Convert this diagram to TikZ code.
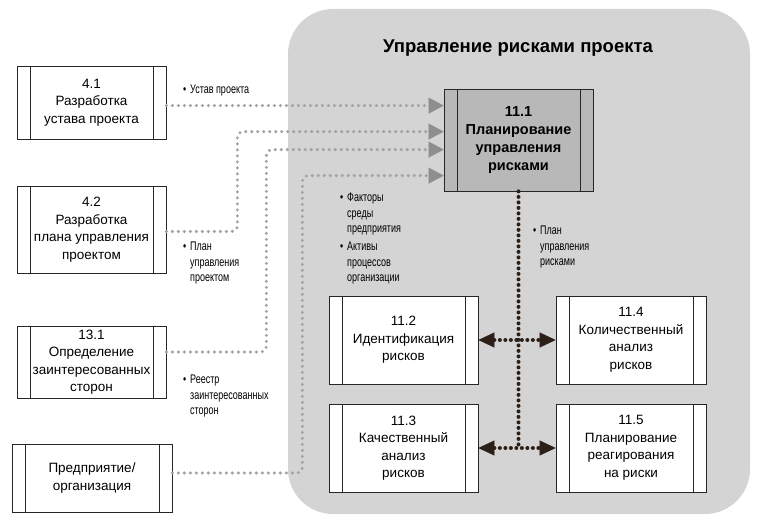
\documentclass[tikz,border=0pt]{standalone}
\usepackage{fontspec}
\setmainfont{Liberation Sans}
\newfontfamily\narrowfont[FakeStretch=0.72]{Liberation Sans}
\usepackage{xcolor}
\usepackage{tikz}
\usetikzlibrary{arrows.meta}
\definecolor{panelgray}{HTML}{D4D4D4}
\definecolor{boxgray}{HTML}{B8B8B8}
\definecolor{dotgray}{HTML}{A3A3A3}
\definecolor{tipgray}{HTML}{8E8E8E}
\definecolor{darkbrown}{HTML}{2B1F17}
\tikzset{
    procbox/.style={
        draw=black!85, fill=white, line width=0.8pt, inner sep=0pt,
        align=center, font=\fontsize{13.5}{17.5}\selectfont,
        minimum width=149pt,
        path picture={
            \draw[line width=0.8pt]
                ([xshift=13pt]path picture bounding box.north west) -- ([xshift=13pt]path picture bounding box.south west)
                ([xshift=-13pt]path picture bounding box.north east) -- ([xshift=-13pt]path picture bounding box.south east);
        }
    },
    lbl/.style={
        anchor=north west, align=left, inner sep=0pt,
        font=\narrowfont\fontsize{12.5}{15.5}\selectfont
    },
    gline/.style={
        draw=dotgray, line width=3.4pt, line cap=round,
        dash pattern=on 0pt off 6pt, rounded corners=6pt,
        -{Triangle[length=15pt,width=16pt,line width=0.1pt,color=tipgray]}
    },
    dline/.style={
        draw=darkbrown, line width=4pt, line cap=round,
        dash pattern=on 0pt off 5.5pt
    },
    darr/.style={
        dline,
        {Triangle[length=16pt,width=15pt,line width=0.1pt]}-{Triangle[length=16pt,width=15pt,line width=0.1pt]}
    }
}

\begin{document}
\begin{tikzpicture}[x=1pt, y=-1pt]
\useasboundingbox (0,0) rectangle (768,521);

\fill[panelgray, rounded corners=45pt] (288,9) rectangle (750,514);
\node[font=\bfseries\fontsize{18.5}{22}\selectfont] (title) at (518,48) {Управление рисками проекта};

\node[procbox, minimum height=73pt] (p41) at (91.5,102.5) {4.1\\Разработка\\устава проекта};
\node[procbox, minimum height=87pt] (p42) at (91.5,229.5) {4.2\\Разработка\\плана управления\\проектом};
\node[procbox, minimum height=72pt] (p131) at (91.5,362) {13.1\\Определение\\заинтересованных\\сторон};
\node[procbox, minimum height=68pt, minimum width=160pt] (pent) at (92,478) {Предприятие/\\организация};

\node[procbox, fill=boxgray, minimum height=102pt, font=\bfseries\fontsize{14.5}{18}\selectfont] (p11) at (518.5,140) {11.1\\Планирование\\управления\\рисками};
\node[procbox, minimum height=88pt] (p12) at (403.5,340) {11.2\\Идентификация\\рисков};
\node[procbox, minimum height=88pt, minimum width=150pt] (p14) at (631,340) {11.4\\Количественный\\анализ\\рисков};
\node[procbox, minimum height=88pt] (p13) at (403.5,448) {11.3\\Качественный\\анализ\\рисков};
\node[procbox, minimum height=88pt, minimum width=150pt] (p15) at (631,448) {11.5\\Планирование\\реагирования\\на риски};

\coordinate (in1) at ([yshift=-17pt]p11.north west);
\coordinate (in2) at ([yshift=-43pt]p11.north west);
\coordinate (in3) at ([yshift=-61pt]p11.north west);
\coordinate (in4) at ([yshift=-87pt]p11.north west);

\draw[gline] (p41.east |- in1) -- (in1);
\draw[gline] ([yshift=-2pt]p42.east) -- ++(71,0) |- (in2);
\draw[gline] ([yshift=10pt]p131.east) -- ++(100,0) |- (in3);
\draw[gline] ([yshift=5pt]pent.east) -- ++(130,0) |- (in4);

\draw[dline] (p11) -- (p11 |- p13);
\draw[darr] (p12) -- (p14);
\draw[darr] (p13) -- (p15);

\node[lbl] (l41) at (190,85) {\llap{•\hspace{4pt}}Устав проекта};
\node[lbl] (l42) at (190,242) {\llap{•\hspace{4pt}}План\\управления\\проектом};
\node[lbl] (l131) at (190,375) {\llap{•\hspace{4pt}}Реестр\\заинтересованных\\сторон};
\node[lbl] (lenv) at (347,193) {\llap{•\hspace{4pt}}Факторы\\среды\\предприятия};
\node[lbl] (lopa) at (347,242) {\llap{•\hspace{4pt}}Активы\\процессов\\организации};
\node[lbl] (lrmp) at (540,226) {\llap{•\hspace{4pt}}План\\управления\\рисками};
\end{tikzpicture}
\end{document}
